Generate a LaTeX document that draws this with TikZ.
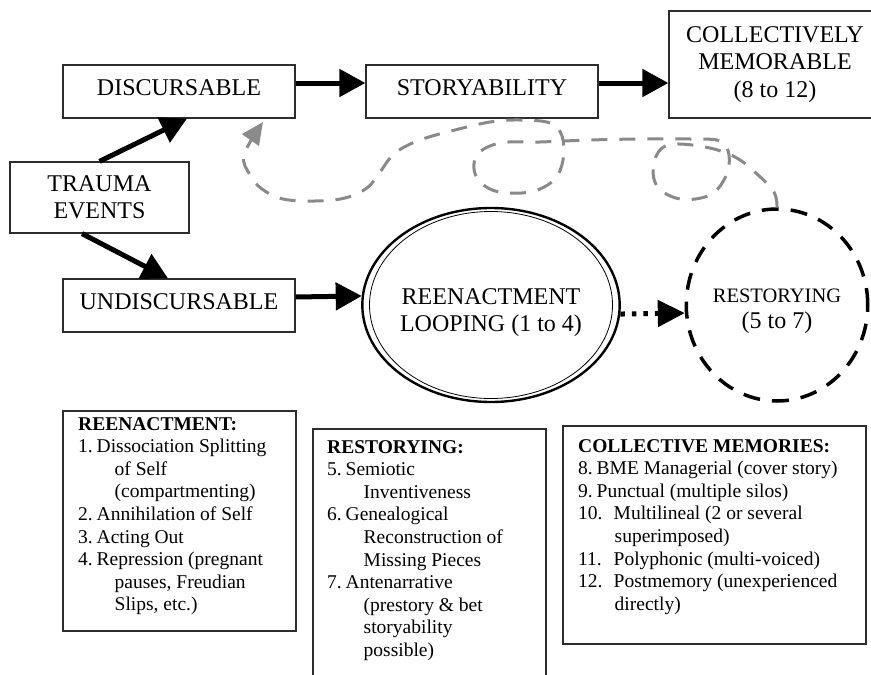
\documentclass[tikz,border=0pt]{standalone}
\usepackage{fontspec}
\setmainfont{Liberation Serif}
\usepackage{tikz}
\usetikzlibrary{arrows.meta, positioning, shapes.geometric, calc}
\definecolor{boxline}{RGB}{45, 45, 45}
\definecolor{returngray}{RGB}{138, 138, 138}
\newcommand{\listno}[1]{\makebox[18.5pt][l]{#1}}
\newcommand{\listnowide}[1]{\makebox[35.5pt][l]{#1}}
\newcommand{\listcont}{\hspace*{36.5pt}}

\begin{document}
\begin{tikzpicture}[x=1pt, y=-1pt,
        stage/.style={draw=boxline, line width=1.2pt, rectangle, inner sep=0pt, align=center, font=\fontsize{24}{27.5}\selectfont},
        oneline/.style={text height=16pt, text depth=9pt},
        flow/.style={line width=5pt, -{Triangle[length=26pt, width=27pt]}},
        listbox/.style={draw=boxline, line width=1.2pt},
        listtext/.style={anchor=north west, inner sep=0pt, align=left, font=\fontsize{19.5}{22.6}\selectfont}]

        \useasboundingbox (0,0) rectangle (871,675);
        \clip (0,0) rectangle (871,675);

        % Upper path
        \node[stage, oneline, minimum width=232, minimum height=53] (disc) at (179,91.5) {DISCURSABLE};
        \node[stage, oneline, minimum width=232, minimum height=53] (story) at (482,91.5) {STORYABILITY};
        \node[stage, minimum width=212, minimum height=107] (coll) at (775,64.5) {COLLECTIVELY\\MEMORABLE\\(8 to 12)};

        % Origin
        \node[stage, minimum width=179, minimum height=71] (trauma) at (99.5,197.5) {TRAUMA\\EVENTS};

        % Lower path
        \node[stage, oneline, minimum width=232, minimum height=53] (undisc) at (179,305.5) {UNDISCURSABLE};
        \node[draw=black, line width=2.4pt, ellipse, inner sep=0pt, minimum width=250, minimum height=194, align=center, font=\fontsize{24}{27}\selectfont] (loop) at (491,305) {\rule{0pt}{32pt}REENACTMENT\\LOOPING (1 to 4)};
        \draw[line width=0.8pt] (loop.center) ellipse [x radius=121.5pt, y radius=93.5pt];
        \node[draw=black, line width=3.5pt, dash pattern=on 17pt off 12pt, ellipse, inner sep=0pt, minimum width=176, minimum height=192, align=center, font=\fontsize{20.5}{26}\selectfont] (restory) at (777,305) {\rule{0pt}{27pt}RESTORYING\\{\fontsize{24}{26}\selectfont (5 to 7)}};

        % Arrows
        \draw[flow] ([yshift=8.5pt]disc.east) -- ([yshift=8.5pt]story.west);
        \draw[flow] ([yshift=8.5pt]story.east) -- ([yshift=-18.5pt]coll.west);
        \draw[flow] (trauma.north) -- ([xshift=8pt]disc.south);
        \draw[flow] ([xshift=-17.5pt]trauma.south) -- ([xshift=-11pt]undisc.north);
        \draw[flow] ([yshift=8.5pt]undisc.east) -- (loop.176);
        \draw[line width=5pt, dash pattern=on 4.5pt off 7pt, -{Triangle[length=27pt, width=26pt]}] (loop.-4) -- (restory.185);

        % Return loop back to discursable
        \coordinate (backtip) at (263,122);
        \draw[returngray, line width=3pt, dash pattern=on 16pt off 12pt, -{Triangle[length=22pt, width=20pt]}]
            plot[smooth, tension=0.6] coordinates {(restory.north) (774,192) (757,174) (735,157) (705,147) (668,145)
            (654,162) (657,186) (680,199) (710,195) (726,176) (729,155) (720,141) (690,139) (640,139) (590,140)
            (540,142) (500,143) (477,155) (476,176) (495,191) (530,192) (554,180) (563,160) (562,136) (550,123)
            (520,120) (490,122) (455,130) (420,140) (395,153) (380,172) (367,188) (345,198) (315,201) (283,199)
            (262,189) (250,175) (244,155) (backtip)};

        % Reenactment list
        \draw[listbox] (63,411) rectangle (296,631);
        \node[listtext] (reenlist) at (78,417) {\textbf{REENACTMENT:}\\
            \listno{1.}Dissociation Splitting\\
            \listcont of Self\\
            \listcont (compartmenting)\\
            \listno{2.}Annihilation of Self\\
            \listno{3.}Acting Out\\
            \listno{4.}Repression (pregnant\\
            \listcont pauses, Freudian\\
            \listcont Slips, etc.)};

        % Restorying list
        \draw[listbox] (313,429) rectangle (546,700);
        \node[listtext] (restlist) at (327,440) {\textbf{RESTORYING:}\\
            \listno{5.}Semiotic\\
            \listcont Inventiveness\\
            \listno{6.}Genealogical\\
            \listcont Reconstruction of\\
            \listcont Missing Pieces\\
            \listno{7.}Antenarrative\\
            \listcont (prestory \& bet\\
            \listcont storyability\\
            \listcont possible)};

        % Collective memories list
        \draw[listbox] (563,426) rectangle (866,644);
        \node[listtext] (colllist) at (578,439) {\textbf{COLLECTIVE MEMORIES:}\\
            \listno{8.}BME Managerial (cover story)\\
            \listno{9.}Punctual (multiple silos)\\
            \listnowide{10.}Multilineal (2 or several\\
            \listcont superimposed)\\
            \listnowide{11.}Polyphonic (multi-voiced)\\
            \listnowide{12.}Postmemory (unexperienced\\
            \listcont directly)};

    \end{tikzpicture}
\end{document}
